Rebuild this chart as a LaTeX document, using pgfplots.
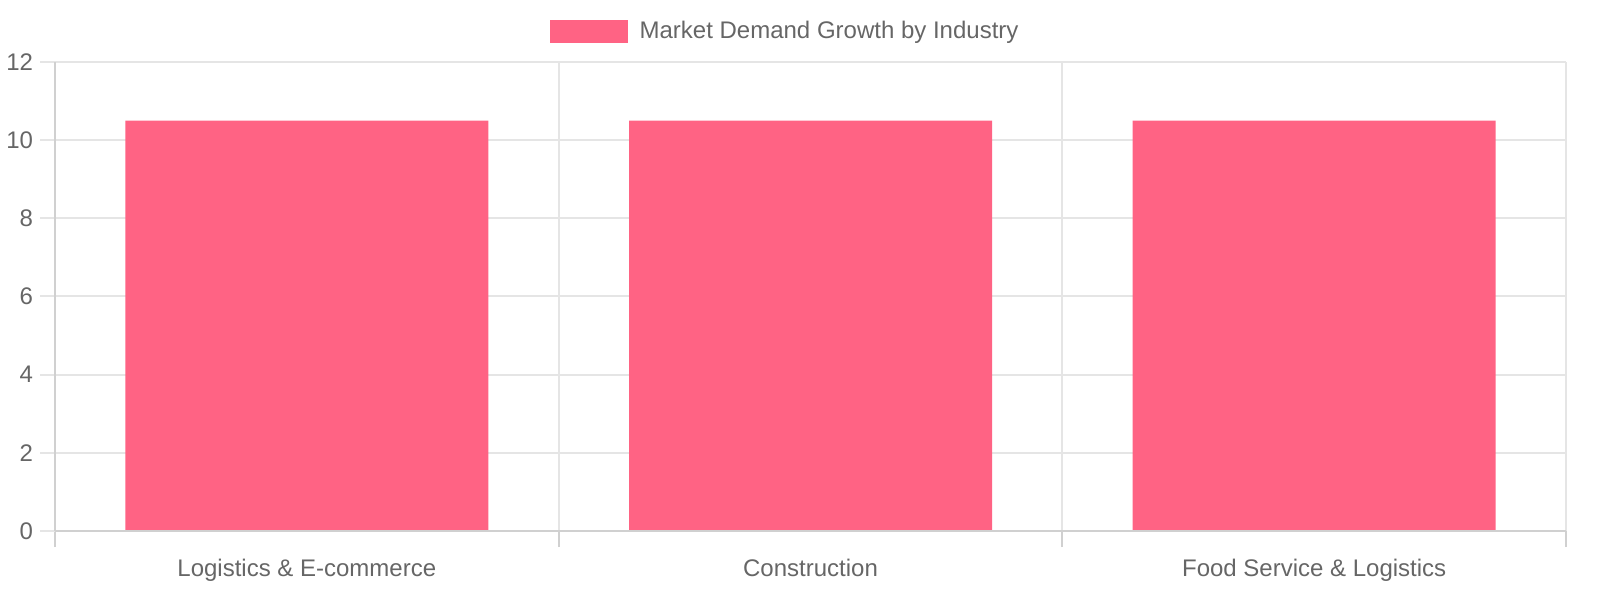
\documentclass[border=0pt]{standalone}
\usepackage{fontspec}
\setmainfont{Liberation Sans}
\usepackage{pgfplots}
\pgfplotsset{compat=1.18}

\definecolor{barpink}{HTML}{FF6384}
\definecolor{txtgray}{HTML}{666666}
\definecolor{gridgray}{HTML}{E5E5E5}
\definecolor{axisgray}{HTML}{D0D0D0}

\begin{document}
\begin{tikzpicture}[font=\fontsize{12bp}{14bp}\selectfont]
% page = 1600 x 600 px, 1 px = 0.5 bp; axis corner at pixel (55,531)
\useasboundingbox (-27.5bp,-34.5bp) rectangle (772.5bp,265.5bp);
\begin{axis}[
    scale only axis,
    width=755.5bp,
    height=234.5bp,
    at={(0,0)}, anchor=south west,
    xmin=-0.5, xmax=2.5,
    ymin=0, ymax=12,
    ytick={0,2,...,12},
    xtick={0,1,2},
    xticklabels={Logistics \& E-commerce, Construction, Food Service \& Logistics},
    minor xtick={-0.5,0.5,1.5,2.5},
    xtick pos=bottom, ytick pos=left,
    ymajorgrids,
    xminorgrids,
    major grid style={gridgray, line width=1bp},
    minor grid style={gridgray, line width=1bp},
    tick align=outside,
    major x tick style={draw=none},
    major tick length=7.5bp,
    minor tick length=8bp,
    major y tick style={gridgray, line width=1bp},
    minor x tick style={axisgray, line width=1bp},
    axis line style={draw=none},
    ticklabel style={font=\fontsize{12bp}{14bp}\selectfont, text=txtgray},
    /pgf/number format/assume math mode=true,
    xticklabel style={yshift=-3bp},
    ybar,
    bar width=181.5bp,
    legend style={at={(axis description cs:0.4825,1.065)}, anchor=center,
        draw=none, fill=none, font=\fontsize{12bp}{14bp}\selectfont,
        text=txtgray, inner sep=0pt},
    legend image code/.code={\fill[barpink] (0bp,-5.75bp) rectangle (39bp,5.75bp);},
    legend cell align=left,
    legend style={/tikz/every even column/.append style={column sep=0bp}},
    legend style={nodes={inner sep=0pt}},
    clip=false,
]
\addplot[fill=barpink, draw=none] coordinates {(0,10.5) (1,10.5) (2,10.5)};
\addlegendentry{\hspace{6bp}Market Demand Growth by Industry}
\draw[axisgray, line width=1bp] (axis cs:-0.5,0) -- (axis cs:-0.5,12);
\draw[axisgray, line width=1bp] (axis cs:-0.5,0) -- (axis cs:2.5,0);
\end{axis}
\end{tikzpicture}
\end{document}
